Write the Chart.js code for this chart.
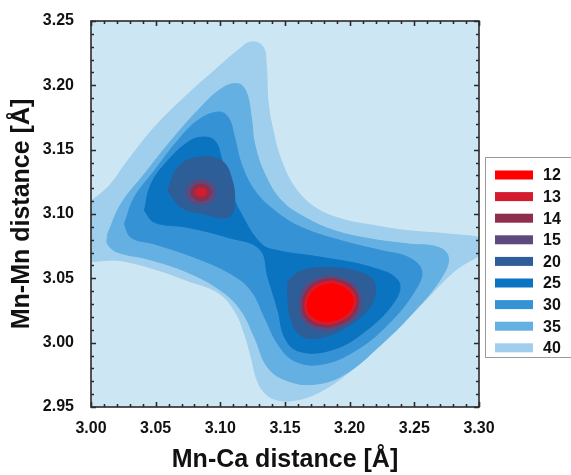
<!DOCTYPE html>
<html>
<head>
<meta charset="utf-8">
<script src="https://cdn.jsdelivr.net/npm/chart.js@4.4.1/dist/chart.umd.min.js"></script>
<style>
  html, body { margin: 0; padding: 0; background: #fff; }
</style>
</head>
<body>
<canvas id="chart" width="571" height="475"></canvas>
<script>
// ========================================
// DATA
// ========================================
const levels = [12, 13, 14, 15, 20, 25, 30, 35, 40];
const levelColors = ["#ff0000", "#d31c2e", "#8e2d4c", "#5c4a7f", "#2e5e98", "#0b74c1", "#3592d5", "#64b0e2", "#9fcfec"];
const plotBackground = "#cde6f4";

const xTickValues = [3.0, 3.05, 3.1, 3.15, 3.2, 3.25, 3.3];
const yTickValues = [2.95, 3.0, 3.05, 3.1, 3.15, 3.2, 3.25];

// contour outlines, [Mn-Ca, Mn-Mn]
const contour40 = [
  [2.990, 3.1030], [3.0129, 3.1208], [3.0284, 3.1415], [3.0491, 3.1675], [3.0723, 3.1908],
  [3.0955, 3.2116], [3.1136, 3.2272], [3.1239, 3.2337], [3.1330, 3.2298], [3.1356, 3.2142],
  [3.1368, 3.1882], [3.1407, 3.1649], [3.1472, 3.1415], [3.1575, 3.1208], [3.1730, 3.1052],
  [3.1937, 3.0961], [3.2195, 3.0909], [3.2453, 3.0870], [3.2763, 3.0844], [3.3050, 3.0800],
  [3.3050, 3.0720], [3.2814, 3.0559], [3.2556, 3.0299], [3.2298, 3.0040], [3.2040, 2.9806],
  [3.1782, 2.9625], [3.1575, 2.9552], [3.1420, 2.9560], [3.1330, 2.9625], [3.1278, 2.9729],
  [3.1239, 2.9884], [3.1188, 3.0066], [3.1110, 3.0248], [3.0981, 3.0390], [3.0749, 3.0481],
  [3.0491, 3.0572], [3.0232, 3.0637], [2.990, 3.0670], [2.990, 3.1030]
];
const contour35 = [
  [3.0129, 3.0844], [3.0232, 3.1078], [3.0413, 3.1311], [3.0620, 3.1571], [3.0826, 3.1805],
  [3.1007, 3.1973], [3.1136, 3.2012], [3.1201, 3.1947], [3.1239, 3.1753], [3.1265, 3.1545],
  [3.1343, 3.1311], [3.1472, 3.1104], [3.1653, 3.0974], [3.1885, 3.0870], [3.2169, 3.0805],
  [3.2453, 3.0767], [3.2685, 3.0741], [3.2763, 3.0663], [3.2711, 3.0507], [3.2504, 3.0248],
  [3.2246, 2.9988], [3.1962, 2.9755], [3.1730, 2.9677], [3.1523, 2.9703], [3.1368, 2.9806],
  [3.1265, 3.0040], [3.1162, 3.0248], [3.1007, 3.0403], [3.0749, 3.0546], [3.0439, 3.0650],
  [3.0207, 3.0702], [3.0129, 3.0767], [3.0129, 3.0844]
];
const contour30 = [
  [3.0258, 3.0922], [3.0336, 3.1130], [3.0491, 3.1337], [3.0671, 3.1571], [3.0826, 3.1727],
  [3.0981, 3.1792], [3.1059, 3.1753], [3.1110, 3.1597], [3.1162, 3.1389], [3.1265, 3.1182],
  [3.1420, 3.1026], [3.1627, 3.0896], [3.1937, 3.0792], [3.2246, 3.0715], [3.2453, 3.0663],
  [3.2556, 3.0559], [3.2504, 3.0403], [3.2298, 3.0144], [3.2040, 2.9936], [3.1782, 2.9832],
  [3.1575, 2.9858], [3.1446, 2.9988], [3.1343, 3.0196], [3.1239, 3.0403], [3.1084, 3.0533],
  [3.0800, 3.0663], [3.0491, 3.0767], [3.0310, 3.0818], [3.0258, 3.0922]
];
const contour25 = [
  [3.0413, 3.1026], [3.0465, 3.1234], [3.0594, 3.1415], [3.0749, 3.1558], [3.0852, 3.1597],
  [3.0955, 3.1571], [3.1007, 3.1441], [3.1059, 3.1234], [3.1162, 3.1000], [3.1317, 3.0767],
  [3.1446, 3.0715], [3.1782, 3.0663], [3.2169, 3.0585], [3.2375, 3.0481], [3.2350, 3.0325],
  [3.2091, 3.0066], [3.1834, 2.9936], [3.1601, 2.9936], [3.1498, 3.0040], [3.1446, 3.0248],
  [3.1368, 3.0507], [3.1304, 3.0728], [3.1059, 3.0818], [3.0749, 3.0896], [3.0491, 3.0935],
  [3.0413, 3.1026]
];
const contour20Left = [
  [3.0594, 3.1182], [3.0671, 3.1363], [3.0826, 3.1441], [3.1007, 3.1415], [3.1084, 3.1286],
  [3.1110, 3.1078], [3.1059, 3.0974], [3.0878, 3.1000], [3.0697, 3.1052], [3.0594, 3.1182]
];
const contour20Right = [
  [3.1523, 3.0481], [3.1627, 3.0559], [3.1859, 3.0585], [3.2117, 3.0533], [3.2195, 3.0455],
  [3.2169, 3.0299], [3.2014, 3.0144], [3.1782, 3.0040], [3.1627, 3.0053], [3.1549, 3.0170],
  [3.1523, 3.0325], [3.1523, 3.0481]
];
const contour15Left = [
  [3.0970, 3.1169], [3.0935, 3.1240], [3.0852, 3.1265], [3.0770, 3.1238], [3.0736, 3.1169],
  [3.0768, 3.1100], [3.0852, 3.1072], [3.0936, 3.1100], [3.0970, 3.1169]
];
const contour14Left = [
  [3.0930, 3.1169], [3.0906, 3.1215], [3.0852, 3.1234], [3.0798, 3.1215], [3.0775, 3.1169],
  [3.0798, 3.1123], [3.0852, 3.1104], [3.0906, 3.1123], [3.0930, 3.1169]
];
const contour13Left = [
  [3.0898, 3.1169], [3.0884, 3.1192], [3.0852, 3.1200], [3.0820, 3.1192], [3.0806, 3.1169],
  [3.0820, 3.1146], [3.0852, 3.1138], [3.0884, 3.1146], [3.0898, 3.1169]
];
const contour15Right = [
  [3.1872, 3.0520], [3.2014, 3.0468], [3.2086, 3.0356], [3.2060, 3.0216], [3.1942, 3.0126],
  [3.1792, 3.0100], [3.1647, 3.0165], [3.1611, 3.0299], [3.1653, 3.0434], [3.1756, 3.0502],
  [3.1872, 3.0520]
];
const contour14Right = [
  [3.1872, 3.0499], [3.2001, 3.0450], [3.2066, 3.0349], [3.2040, 3.0227], [3.1932, 3.0146],
  [3.1797, 3.0123], [3.1667, 3.0180], [3.1635, 3.0299], [3.1673, 3.0416], [3.1766, 3.0481],
  [3.1872, 3.0499]
];
const contour13Right = [
  [3.1872, 3.0481], [3.1988, 3.0434], [3.2048, 3.0344], [3.2020, 3.0237], [3.1922, 3.0165],
  [3.1802, 3.0144], [3.1685, 3.0196], [3.1653, 3.0299], [3.1691, 3.0403], [3.1774, 3.0463],
  [3.1872, 3.0481]
];
const contour12Right = [
  [3.1872, 3.0460], [3.1975, 3.0416], [3.2027, 3.0338], [3.2001, 3.0248], [3.1911, 3.0183],
  [3.1808, 3.0165], [3.1704, 3.0209], [3.1673, 3.0299], [3.1709, 3.0390], [3.1782, 3.0442],
  [3.1872, 3.0460]
];

const contours = [
  { level: 40, pts: contour40 },
  { level: 35, pts: contour35 },
  { level: 30, pts: contour30 },
  { level: 25, pts: contour25 },
  { level: 20, pts: contour20Left },
  { level: 20, pts: contour20Right },
  { level: 15, pts: contour15Left },
  { level: 15, pts: contour15Right },
  { level: 14, pts: contour14Left },
  { level: 14, pts: contour14Right },
  { level: 13, pts: contour13Left },
  { level: 13, pts: contour13Right },
  { level: 12, pts: contour12Right },
];

// ========================================
// HELPERS
// ========================================
const FONT = "'Liberation Sans', Arial, Helvetica, sans-serif";
const minorStep = 0.01;

function colorOf(level) {
  return levelColors[levels.indexOf(level)];
}

// nền, khung, vạch chia trong, chú thích
const contourFrame = {
  id: "contourFrame",
  beforeDatasetsDraw(chart) {
    const { ctx, chartArea: a } = chart;
    ctx.save();
    ctx.fillStyle = plotBackground;
    ctx.fillRect(a.left, a.top, a.width, a.height);
    ctx.restore();
  },
  afterDatasetsDraw(chart) {
    const { ctx, chartArea: a, scales } = chart;
    const xs = scales.x, ys = scales.y;
    ctx.save();
    ctx.strokeStyle = "#2a2a2a";
    ctx.lineWidth = 1.6;

    // inner ticks
    ctx.beginPath();
    const nx = Math.round((xs.max - xs.min) / minorStep);
    for (let i = 0; i <= nx; i++) {
      const px = Math.round(xs.getPixelForValue(xs.min + i * minorStep)) + 0.5;
      const len = i % 5 === 0 ? 5 : 3;
      ctx.moveTo(px, a.bottom); ctx.lineTo(px, a.bottom - len);
      ctx.moveTo(px, a.top); ctx.lineTo(px, a.top + len);
    }
    const ny = Math.round((ys.max - ys.min) / minorStep);
    for (let i = 0; i <= ny; i++) {
      const py = Math.round(ys.getPixelForValue(ys.min + i * minorStep)) + 0.5;
      const len = i % 5 === 0 ? 5 : 3;
      ctx.moveTo(a.left, py); ctx.lineTo(a.left + len, py);
      ctx.moveTo(a.right, py); ctx.lineTo(a.right - len, py);
    }
    ctx.stroke();

    ctx.strokeRect(a.left, a.top, a.width, a.height);

    // legend
    const lx = a.right + 6, ly = 157, lh = 200;
    ctx.strokeStyle = "#9a9a9a";
    ctx.lineWidth = 1;
    ctx.strokeRect(lx + 0.5, ly + 0.5, 120, lh);
    ctx.font = "bold 16px " + FONT;
    ctx.textBaseline = "middle";
    ctx.textAlign = "left";
    levels.forEach((lv, i) => {
      const cy = ly + 18 + i * 21.6;
      ctx.fillStyle = levelColors[i];
      ctx.fillRect(lx + 10, cy - 4.5, 38, 9);
      ctx.fillStyle = "#111";
      ctx.fillText(String(lv), lx + 58, cy + 1);
    });
    ctx.restore();
  },
};

// ========================================
// CHART
// ========================================
const ctx = document.getElementById("chart");
new Chart(ctx, {
  type: "scatter",
  data: {
    datasets: contours.map((c) => ({
      label: String(c.level),
      data: c.pts.map((p) => ({ x: p[0], y: p[1] })),
      showLine: true,
      fill: "shape",
      backgroundColor: colorOf(c.level),
      borderColor: colorOf(c.level),
      borderWidth: 1,
      pointRadius: 0,
      pointHoverRadius: 0,
      tension: 0.4,
      order: c.level,
    })),
  },
  options: {
    responsive: false,
    animation: false,
    events: [],
    layout: { padding: { top: 21, right: 92, bottom: 0, left: 0 } },
    plugins: {
      legend: { display: false },
      tooltip: { enabled: false },
    },
    scales: {
      x: {
        type: "linear",
        min: 3.0,
        max: 3.3,
        afterBuildTicks: (s) => { s.ticks = xTickValues.map((v) => ({ value: v })); },
        afterFit: (s) => { s.height = 68; },
        grid: { display: false },
        border: { display: false },
        ticks: {
          padding: 4,
          color: "#111",
          maxRotation: 0,
          autoSkip: false,
          font: { family: FONT, size: 16, weight: "bold" },
          callback: (v) => Number(v).toFixed(2),
        },
        title: {
          display: true,
          text: "Mn-Ca distance [Å]",
          color: "#111",
          font: { family: FONT, size: 25, weight: "bold" },
          padding: { top: 0, bottom: 0 },
        },
      },
      y: {
        type: "linear",
        min: 2.95,
        max: 3.25,
        afterBuildTicks: (s) => { s.ticks = yTickValues.map((v) => ({ value: v })); },
        afterFit: (s) => { s.width = 91; },
        grid: { display: false },
        border: { display: false },
        ticks: {
          padding: 9,
          color: "#111",
          autoSkip: false,
          font: { family: FONT, size: 16, weight: "bold" },
          callback: (v) => Number(v).toFixed(2),
        },
        title: {
          display: true,
          text: "Mn-Mn distance [Å]",
          color: "#111",
          font: { family: FONT, size: 25, weight: "bold" },
          padding: { top: 7, bottom: 0 },
        },
      },
    },
  },
  plugins: [contourFrame],
});
</script>
</body>
</html>
